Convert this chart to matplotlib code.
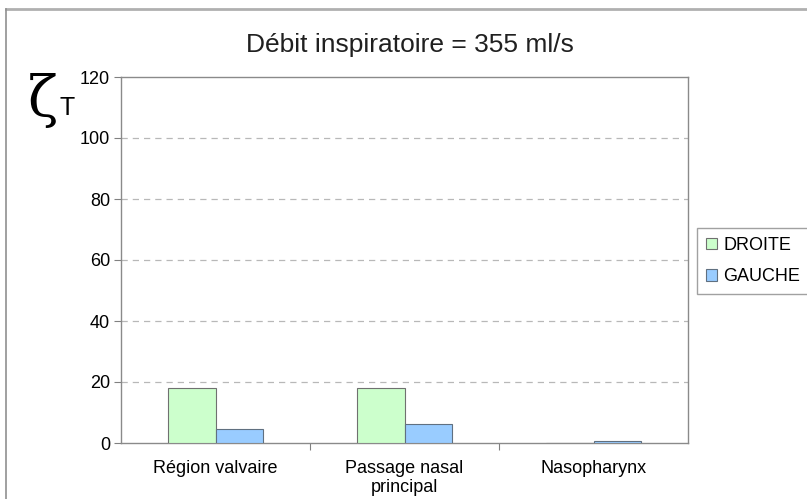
import matplotlib
matplotlib.use("Agg")
import matplotlib.pyplot as plt
import numpy as np
from matplotlib.lines import Line2D
from matplotlib.ticker import FixedLocator

plt.rcParams["font.family"] = ["Liberation Sans", "DejaVu Sans"]

categories = ["Région valvaire", "Passage nasal\nprincipal", "Nasopharynx"]
droite = [18.0, 18.0, 0.0]
gauche = [4.6, 6.1, 0.6]
series_names = ["DROITE", "GAUCHE"]
y_ticks = [0, 20, 40, 60, 80, 100, 120]

fig = plt.figure(figsize=(8.07, 4.99), dpi=100)
ax = fig.add_axes([121 / 807, 56 / 499, 567 / 807, 366 / 499])

x = np.arange(len(categories))
width = 0.25
ax.bar(x - width / 2, droite, width, color="#CCFFCC", edgecolor="#707070",
       linewidth=0.8, label=series_names[0], zorder=3)
ax.bar(x + width / 2, gauche, width, color="#99CCFF", edgecolor="#607080",
       linewidth=0.8, label=series_names[1], zorder=3)

ax.set_xlim(-0.5, len(categories) - 0.5)
ax.set_ylim(0, 120)
ax.set_yticks(y_ticks)
ax.tick_params(axis="y", direction="out", length=5, color="#808080",
               labelsize=13, pad=3)

# category labels centred, tick marks on the boundaries
ax.xaxis.set_major_locator(FixedLocator([0.5, 1.5]))
ax.xaxis.set_minor_locator(FixedLocator(list(x)))
ax.set_xticklabels([], minor=False)
ax.set_xticklabels(categories, minor=True)
ax.tick_params(axis="x", which="major", direction="out", length=5,
               color="#808080")
ax.tick_params(axis="x", which="minor", length=0, labelsize=13, pad=12)

for y in y_ticks[1:-1]:
    ax.axhline(y, color="#b8b8b8", linestyle=(0, (5, 4)), linewidth=0.9,
               zorder=1)
for side in ax.spines.values():
    side.set_color("#8a8a8a")
    side.set_linewidth(1.0)

fig.text(410 / 807, 1 - 45 / 499, "Débit inspiratoire = 355 ml/s",
         ha="center", va="center", fontsize=19, color="#202020")

# axis symbol
fig.text(28 / 807, 1 - 100 / 499, "ζ", ha="left", va="center",
         fontsize=40, family=["DejaVu Serif"])
fig.text(60 / 807, 1 - 108 / 499, "T", ha="left", va="center", fontsize=18)

fig.legend(loc="center left", bbox_to_anchor=(697 / 807, 1 - 261 / 499),
           fontsize=13, frameon=True, fancybox=False, edgecolor="#8a8a8a",
           handlelength=0.6, handleheight=0.6, handletextpad=0.35,
           borderpad=0.5, labelspacing=0.8, borderaxespad=0)

# outer chart frame
fig.add_artist(Line2D([6 / 807, 1], [1 - 9 / 499, 1 - 9 / 499],
                      color="#b0b0b0", linewidth=2.0))
fig.add_artist(Line2D([6 / 807, 6 / 807], [0, 1 - 9 / 499],
                      color="#909090", linewidth=1.2))

fig.savefig("out.png", dpi=100)
